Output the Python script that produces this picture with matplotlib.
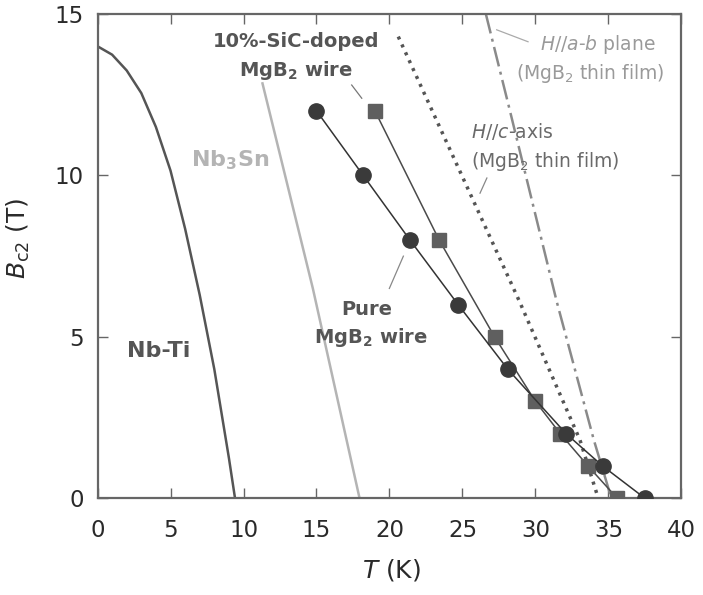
import matplotlib
matplotlib.use("Agg")
import matplotlib.pyplot as plt

plt.rcParams['font.family'] = ['DejaVu Sans']
plt.rcParams['mathtext.fontset'] = 'custom'
plt.rcParams['mathtext.rm'] = 'DejaVu Sans'
plt.rcParams['mathtext.it'] = 'DejaVu Sans:italic'
plt.rcParams['mathtext.bf'] = 'DejaVu Sans:bold'
plt.rcParams['mathtext.default'] = 'regular'

# ---- data ----
nbti_T = [0, 1, 2, 3, 4, 5, 6, 7, 8, 9, 9.42]
nbti_B = [14.0, 13.74, 13.25, 12.55, 11.5, 10.15, 8.35, 6.3, 4.0, 1.25, 0]

nb3sn_T = [11.3, 14.75, 17.95]
nb3sn_B = [12.85, 6.5, 0]

pure_T = [15.0, 18.2, 21.4, 24.7, 28.1, 32.1, 34.6, 37.5]
pure_B = [12, 10, 8, 6, 4, 2, 1, 0]

sic_T = [19.0, 23.4, 27.2, 30.0, 31.7, 33.6, 35.6]
sic_B = [12, 8, 5, 3, 2, 1, 0]

film_c_T = [20.6, 28.9, 33.05, 34.3]
film_c_B = [14.3, 6.1, 1.8, 0]

film_ab_T = [26.6, 28.25, 31.45, 34.0, 35.2]
film_ab_B = [15.0, 12.0, 6.1, 1.8, 0]

x_ticks = [0, 5, 10, 15, 20, 25, 30, 35, 40]
y_ticks = [0, 5, 10, 15]

# ---- figure ----
fig = plt.figure(figsize=(7.03, 5.95), dpi=100)
ax = fig.add_axes([0.1387, 0.1625, 0.8307, 0.814])

ax.plot(nbti_T, nbti_B, color='#555555', lw=1.8, solid_joinstyle='round', zorder=2)
ax.plot(nb3sn_T, nb3sn_B, color='#b4b4b4', lw=1.8, zorder=2)
ax.plot(film_c_T, film_c_B, color='#555555', lw=2.5, linestyle=(0, (0.9, 1.6)), zorder=2)
ax.plot(film_ab_T, film_ab_B, color='#8a8a8a', lw=1.8, linestyle=(0, (8, 2.2, 1.2, 2.2)), zorder=2)

ax.plot(sic_T, sic_B, color='#4a4a4a', lw=1.1, marker='s', markersize=10.5,
        markerfacecolor='#5f5f5f', markeredgecolor='#5f5f5f', zorder=3)
ax.plot(pure_T, pure_B, color='#333333', lw=1.1, marker='o', markersize=11,
        markerfacecolor='#3a3a3a', markeredgecolor='#3a3a3a', zorder=4)

ax.set_xlim(0, 40)
ax.set_ylim(0, 15)
ax.set_xticks(x_ticks)
ax.set_yticks(y_ticks)
ax.tick_params(axis='both', direction='in', length=7, width=1.0, color='#666666',
               top=True, right=True, labelsize=16.5, labelcolor='#2a2a2a')
ax.tick_params(axis='x', pad=15)
ax.tick_params(axis='y', pad=10)
for s in ax.spines.values():
    s.set_color('#666666')
    s.set_linewidth(1.6)

ax.set_xlabel(r'$\mathit{T}$ (K)', fontsize=18, color='#2a2a2a')
ax.set_ylabel(r'$\mathit{B}_{c2}$ (T)', fontsize=18, color='#2a2a2a')
ax.xaxis.set_label_coords(0.504, -0.121)
ax.yaxis.set_label_coords(-0.112, 0.537)

dark = '#555555'
kw = dict(ha='center', va='baseline', fontweight='bold')
ax.text(13.6, 13.99, '10%-SiC-doped', fontsize=14, color=dark, **kw)
ax.text(13.56, 13.08, r'MgB$_2$ wire', fontsize=14, color=dark, **kw)
ax.plot([17.41, 18.1], [12.8, 12.39], color='#777777', lw=0.9)

ax.text(18.44, 5.68, 'Pure', fontsize=14, color=dark, **kw)
ax.text(18.7, 4.8, r'MgB$_2$ wire', fontsize=14, color=dark, **kw)
ax.plot([19.99, 20.95], [6.5, 7.5], color='#888888', lw=0.9)

ax.text(4.2, 4.39, 'Nb-Ti', fontsize=16, color=dark, **kw)
ax.text(9.08, 10.27, r'Nb$_3$Sn', fontsize=16, color='#b4b4b4', **kw)

kw2 = dict(ha='center', va='baseline')
ax.text(34.3, 13.88, r'$\mathit{H//a}$-$\mathit{b}$ plane', fontsize=13.5, color='#9a9a9a', **kw2)
ax.text(33.73, 13.0, r'(MgB$_2$ thin film)', fontsize=13.5, color='#9a9a9a', **kw2)
ax.plot([27.34, 29.49], [14.51, 14.14], color='#aaaaaa', lw=0.9)

ax.text(28.42, 11.15, r'$\mathit{H//c}$-axis', fontsize=13.5, color='#6a6a6a', **kw2)
ax.text(30.65, 10.27, r'(MgB$_2$ thin film)', fontsize=13.5, color='#6a6a6a', **kw2)
ax.plot([26.2, 26.67], [9.45, 9.92], color='#888888', lw=0.9)

fig.savefig('out.png', dpi=100)
